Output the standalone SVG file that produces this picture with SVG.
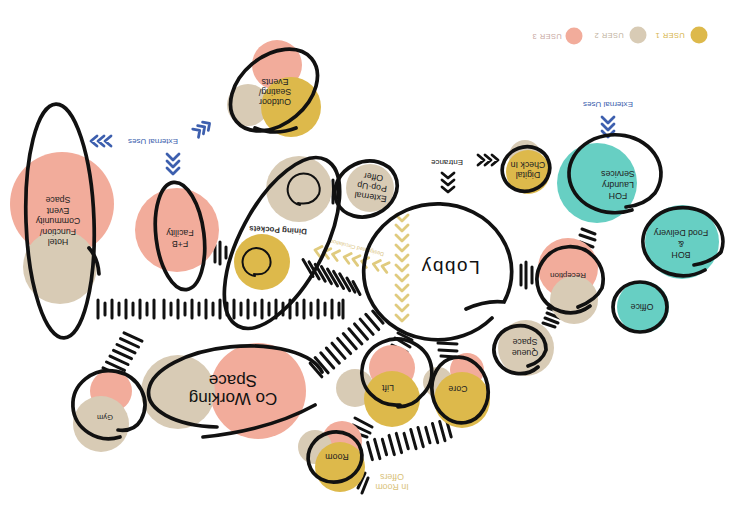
<svg xmlns="http://www.w3.org/2000/svg" width="736" height="520" viewBox="0 0 736 520">
<style>
.pk{fill:#F2AC9B}.tn{fill:#D8CBB5}.yl{fill:#DDB94B}.tl{fill:#67CFC3}
.ln{fill:none;stroke:#111;stroke-width:3.7;stroke-linecap:round}
.sp{fill:none;stroke:#111;stroke-width:2;stroke-linecap:round}
.tk{fill:none;stroke:#111;stroke-width:3;stroke-linecap:round}
.bc{fill:none;stroke:#3D5FAE;stroke-width:2.8;stroke-linecap:round;stroke-linejoin:round}
.kc{fill:none;stroke:#111;stroke-width:2.8;stroke-linecap:round;stroke-linejoin:round}
.yc{fill:none;stroke:#E0CB7E;stroke-width:2.8;stroke-linecap:round;stroke-linejoin:round}
.t{font-family:"Liberation Sans",Arial,sans-serif;font-size:8.8px;fill:#222;text-anchor:middle;dominant-baseline:central}
.b{font-family:"Liberation Sans",Arial,sans-serif;font-size:8px;fill:#3D5FAE;text-anchor:middle;dominant-baseline:central}
.lg{font-family:"Liberation Sans",Arial,sans-serif;font-size:7.5px;text-anchor:middle;dominant-baseline:central;letter-spacing:0.4px}
</style>
<rect width="736" height="520" fill="#fff"/>

<g id="legend">
<circle class="yl" cx="699" cy="35" r="8.5"/>
<text class="lg" fill="#D6B44A" transform="translate(670,35) rotate(180)">USER 1</text>
<circle class="tn" cx="638" cy="35" r="8.5"/>
<text class="lg" fill="#BFB3A0" transform="translate(609,35) rotate(180)">USER 2</text>
<circle class="pk" cx="574" cy="36" r="8.5"/>
<text class="lg" fill="#C9A89F" transform="translate(547,36) rotate(180)">USER 3</text>
</g>

<g id="connectors">
<path class="tk" transform="translate(98,309)" d="M0-9v18M7-6v12M14-9v18M21-6v12M28-9v18M35-6v12M42-9v18M49-6v12M56-9v18M66-9v18M73-6v12M80-9v18M87-6v12M94-9v18M101-6v12M108-9v18M115-6v12M122-9v18M129-6v12M136-9v18M143-6v12M150-9v18M157-6v12M164-9v18M171-6v12M178-9v18M185-6v12M192-9v18M199-6v12M206-9v18M213-6v12M220-9v18M227-6v12M234-9v18M241-6v12M245-9v18"/>
<path class="tk" d="M303,259.5L313,276.5M309.1,261.9L319.1,278.9M315.2,264.3L325.2,281.3M321.4,266.6L331.4,283.6M327.5,269L337.5,286M333.6,271.4L343.6,288.4M339.7,273.8L349.7,290.8M346.9,278.1L354.9,292.1M353,281.5L360,294.5"/>
<path class="tk" transform="translate(316,370) rotate(-40.5)" d="M0-9v18M7.4-10v20M14.8-10v20M22.2-10v20M29.6-10v20M37-10v20M44.4-10v20M51.8-10v20M59.2-10v20M66.6-10v20M74-10v20M81.4-8v16"/>
<path class="tk" transform="translate(370,451) rotate(-15.4)" d="M0-9v18M7.5-10v20M15-8v16M22.5-10v20M30-10v20M37.5-8v16M45-10v20M52.5-10v20M60-8v16M67.5-10v20M75-10v20M82-8v16"/>
<path class="tk" d="M215,245V262M220,242V264M226,247V258"/>
<path class="tk" d="M328,184V200M333,180V203M338,185V198"/>
<path class="tk" d="M521,265V285M526,262V288M532,267V283"/>
<path class="tk" d="M582,229L595,234M580,235L595,240M580,242L593,247"/>
<path class="tk" d="M548,308L562,313M547,313L560,318M545,318L558,323M543,323L555,327"/>
<path class="tk" d="M438,343L457,344M439,350L457,351M441,356L456,357"/>
<path class="tk" d="M398,333L412,340M395,338L410,347M392,345L407,352M390,350L404,356"/>
<path class="tk" d="M355,418L372,427M353,425L370,433M352,432L367,437"/>
<path class="tk" d="M355,482L360,468M358,488L365,473M362,493L368,478"/>
<path class="tk" d="M124,332.8L142,341.2M120.5,338.6L138.5,347M117,344.5L135,352.9M113.5,350.3L131.5,358.7M110,356.1L128,364.5M106.5,362L124.5,370.4M103,367.8L121,376.2"/>
<path class="bc" d="M97,136L91,141L97,146M104,136L98,141L104,146M111,136L105,141L111,146"/>
<path class="bc" d="M167,154L173,160L179,154M167,161L173,167L179,161M167,168L173,174L179,168"/>
<path class="bc" transform="translate(203,128) rotate(-35)" d="M-9,-5L-4,0L-9,5M-3,-5L2,0L-3,5M3,-5L8,0L3,5"/>
<path class="bc" d="M602,117L608,123L614,117M602,124L608,130L614,124M602,131L608,137L614,131"/>
<path class="kc" d="M478,155L484,160L478,165M485,155L491,160L485,165M492,155L498,160L492,165"/>
<path class="kc" d="M442,173L448,178L454,173M442,180L448,185L454,180M442,187L448,192L454,187"/>
<path class="yc" d="M396,215L402,221L408,215M396,225L402,231L408,225M396,235L402,241L408,235M396,245L402,251L408,245M396,255L402,261L408,255M396,265L402,271L408,265M396,275L402,281L408,275M396,285L402,291L408,285M396,295L402,301L408,295M396,305L402,311L408,305M396,315L402,321L408,315"/>
<path class="yc" transform="translate(315,250) rotate(13.5)" d="M6,-5L0,0L6,5M15,-5L9,0L15,5M24,-5L18,0L24,5M36,-5L30,0L36,5M45,-5L39,0L45,5M54,-5L48,0L54,5M66,-5L60,0L66,5M75,-5L69,0L75,5"/>
<text class="t" style="font-size:5.5px;fill:#D9C27A" transform="translate(357,248) rotate(194)">Designated Circulation</text>
<text class="b" transform="translate(153,141) rotate(180)">External Uses</text>
<text class="b" transform="translate(608,104) rotate(180)">External Uses</text>
<text class="t" style="font-size:8px" transform="translate(447,162) rotate(180)">Entrance</text>
</g>

<g id="hotel">
<circle class="pk" cx="62" cy="204" r="52"/>
<circle class="tn" cx="60" cy="267" r="37"/>
<ellipse class="ln" cx="60" cy="221" rx="34" ry="117" transform="rotate(-2 60 221)"/>
<path class="ln" d="M89,248Q98,258 99,274"/>
<g transform="translate(58,221) rotate(180)">
<text class="t" y="-21">Hotel</text><text class="t" y="-10.5">Function/</text><text class="t" y="0">Community</text><text class="t" y="10.5">Event</text><text class="t" y="21">Space</text>
</g>
</g>

<g id="fb">
<circle class="pk" cx="177" cy="230" r="42"/>
<ellipse class="ln" cx="180" cy="236" rx="24" ry="54" transform="rotate(-7 180 236)"/>
<g transform="translate(180,238) rotate(180)"><text class="t" y="-5.5">F+B</text><text class="t" y="5.5">Facility</text></g>
</g>

<g id="outdoor">
<circle class="pk" cx="277" cy="65" r="25"/>
<circle class="tn" cx="248" cy="105" r="21"/>
<circle class="yl" cx="291" cy="107" r="30"/>
<ellipse class="ln" cx="274" cy="90" rx="49" ry="34" transform="rotate(-40 274 90)"/>
<path class="ln" d="M255,128Q275,136 296,128"/>
<g transform="translate(275,92) rotate(180)"><text class="t" y="-10">Outdoor</text><text class="t" y="0">Seating/</text><text class="t" y="10">Events</text></g>
</g>

<g id="dining">
<circle class="tn" cx="299" cy="189" r="33"/>
<circle class="yl" cx="262" cy="262" r="28"/>
<ellipse class="ln" cx="282" cy="243" rx="94" ry="42" transform="rotate(-62 282 243)"/>
<path class="sp" d="M298,203Q313,206 319,194A16,16 0 1 0 300,205"/>
<path class="sp" d="M254,274Q266,276 270,266A14,14 0 1 0 255,276"/>
<text class="t" style="font-size:8px;font-weight:bold;fill:#333" transform="translate(278,230) rotate(183)">Dining Pockets</text>
</g>

<g id="popup">
<circle class="tn" cx="370" cy="188" r="24"/>
<ellipse class="ln" cx="366" cy="189" rx="32" ry="27" transform="rotate(-25 366 189)"/>
<g transform="translate(372,187) rotate(188)"><text class="t" y="-10">External</text><text class="t" y="0">Pop-Up</text><text class="t" y="10">Offer</text></g>
</g>

<g id="lobby">
<path class="ln" d="M492,318A74,68 0 1 1 504,302Q486,300 466,309"/>
<text class="t" style="font-size:19px;letter-spacing:1.5px;fill:#111" transform="translate(450,267) rotate(180)">Lobby</text>
</g>

<g id="checkin">
<circle class="tn" cx="525" cy="156" r="16"/>
<circle class="yl" cx="528" cy="172" r="22"/>
<ellipse class="ln" cx="526" cy="169" rx="24" ry="22" transform="rotate(-20 526 169)"/>
<g transform="translate(528,170) rotate(180)"><text class="t" y="-5">Digital</text><text class="t" y="5">Check In</text></g>
</g>

<g id="foh">
<circle class="tl" cx="597" cy="183" r="40"/>
<path class="ln" d="M632,210A46,39 0 1 1 655,193Q645,205 626,207"/>
<g transform="translate(618,185) rotate(180)"><text class="t" y="-11">FOH</text><text class="t" y="0">Laundry</text><text class="t" y="11">Services</text></g>
</g>

<g id="boh">
<circle class="tl" cx="682" cy="242" r="37"/>
<path class="ln" d="M705,270A40,34 0 1 1 721,252Q712,262 694,265"/>
<g transform="translate(681,244) rotate(180)"><text class="t" y="-11">BOH</text><text class="t" y="0">&amp;</text><text class="t" y="11">Food Delivery</text></g>
</g>

<g id="reception">
<circle class="pk" cx="568" cy="268" r="30"/>
<circle class="tn" cx="574" cy="300" r="24"/>
<path class="ln" d="M590,306A33,33 0 1 1 602,288Q596,300 578,307"/>
<text class="t" style="font-size:8px" transform="translate(568,275) rotate(180)">Reception</text>
</g>

<g id="office">
<circle class="tl" cx="643" cy="307" r="26"/>
<ellipse class="ln" cx="640" cy="307" rx="27" ry="25"/>
<text class="t" transform="translate(642,307) rotate(180)">Office</text>
</g>

<g id="queue">
<circle class="tn" cx="526" cy="348" r="28"/>
<path class="ln" d="M538,367A26,24 0 1 1 546,350Q542,362 528,366"/>
<g transform="translate(525,347) rotate(180)"><text class="t" y="-5.5">Queue</text><text class="t" y="5.5">Space</text></g>
</g>

<g id="core">
<circle class="pk" cx="467" cy="370" r="17"/>
<circle class="tn" cx="438" cy="382" r="15"/>
<circle class="yl" cx="462" cy="400" r="28"/>
<ellipse class="ln" cx="460" cy="390" rx="28" ry="33" transform="rotate(-10 460 390)"/>
<text class="t" transform="translate(458,389) rotate(180)">Core</text>
</g>

<g id="lift">
<circle class="pk" cx="392" cy="368" r="23"/>
<circle class="tn" cx="355" cy="388" r="19"/>
<circle class="yl" cx="392" cy="399" r="28"/>
<path class="ln" d="M400,405A35,33 0 1 1 421,396Q414,406 398,407"/>
<text class="t" transform="translate(388,388) rotate(180)">Lift</text>
</g>

<g id="room">
<circle class="pk" cx="342" cy="441" r="20"/>
<circle class="tn" cx="315" cy="447" r="17"/>
<circle class="yl" cx="340" cy="467" r="25"/>
<ellipse class="ln" cx="335" cy="457" rx="27" ry="25" transform="rotate(-15 335 457)"/>
<text class="t" transform="translate(337,457) rotate(180)">Room</text>
<g transform="translate(392,482) rotate(180)"><text class="t" style="fill:#D9C27A" y="-5">In Room</text><text class="t" style="fill:#D9C27A" y="5">Offers</text></g>
</g>

<g id="coworking">
<circle class="pk" cx="258" cy="391" r="48"/>
<circle class="tn" cx="178" cy="392" r="37"/>
<path class="ln" d="M217,427A88,40 -5 1 1 322,372"/>
<path class="ln" d="M203,437Q270,430 315,405"/>
<g transform="translate(233,389) rotate(180)"><text class="t" style="font-size:17px;fill:#111" y="-9">Co Working</text><text class="t" style="font-size:17px;fill:#111" y="9">Space</text></g>
</g>

<g id="gym">
<circle class="pk" cx="111" cy="391" r="21"/>
<circle class="tn" cx="101" cy="424" r="28"/>
<path class="ln" d="M120,437A36,34 0 1 1 141,420Q134,432 118,430"/>
<text class="t" style="font-size:7.5px" transform="translate(105,417) rotate(180)">Gym</text>
</g>
</svg>
